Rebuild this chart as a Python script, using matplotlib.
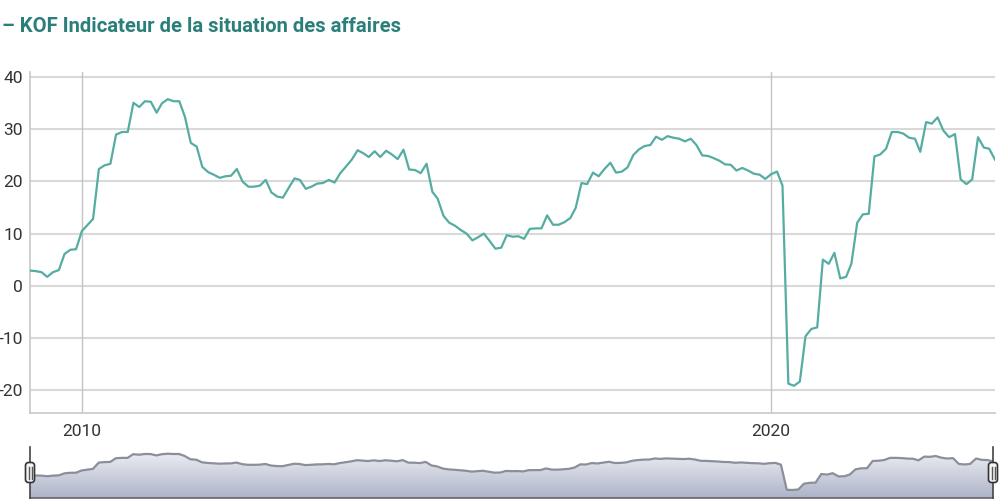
import numpy as np
import pandas as pd
import matplotlib
matplotlib.use("Agg")
import matplotlib.pyplot as plt
import matplotlib.dates as mdates
import matplotlib.transforms as mtransforms
from matplotlib.patches import FancyBboxPatch
from matplotlib.lines import Line2D

# ---------------- data ----------------
start_month = "2009-04-01"
values = [
    2.9, 2.8, 2.6, 1.7, 2.6, 3.0, 6.1, 6.9, 7.0, 10.5, 11.7, 12.8, 22.4, 23.1, 23.4,
    29.0, 29.5, 29.5, 35.1, 34.3, 35.4, 35.3, 33.2, 35.0, 35.8, 35.4, 35.4, 32.4,
    27.4, 26.7, 22.8, 21.8, 21.3, 20.7, 21.0,
    21.1, 22.4, 20.0, 19.0, 19.0, 19.2, 20.3, 17.9, 17.1, 16.9, 18.8, 20.6, 20.3,
    18.6, 19.0, 19.6, 19.7, 20.3, 19.8, 21.6, 22.9, 24.2, 26.0, 25.4, 24.7, 25.8,
    24.7, 25.9, 25.2, 24.3, 26.1, 22.3, 22.2, 21.6,
    23.4, 18.0, 16.7, 13.4, 12.1, 11.5, 10.7, 10.0, 8.7, 9.3, 10.0, 8.6, 7.1, 7.3,
    9.7, 9.4, 9.5, 9.0, 10.9, 11.0, 11.0, 13.5, 11.7, 11.7, 12.2, 13.0, 14.9, 19.7,
    19.5, 21.7, 21.0, 22.4,
    23.6, 21.7, 21.9, 22.7, 25.1, 26.2, 26.8, 27.0, 28.6, 28.0, 28.7, 28.4, 28.2,
    27.7, 28.2, 27.0, 25.0, 24.9, 24.5, 24.0, 23.3, 23.2, 22.1, 22.6, 22.1, 21.5,
    21.3, 20.5, 21.4, 21.9, 19.2,
    -18.8, -19.2, -18.4, -9.7, -8.3, -8.0, 5.0, 4.2, 6.3, 1.4, 1.7, 4.2, 12.1, 13.7,
    13.8, 24.8, 25.2, 26.3, 29.5, 29.5, 29.2, 28.4, 28.2, 25.7, 31.4, 31.1, 32.3,
    29.8, 28.5, 29.1, 20.4, 19.5, 20.4, 28.5, 26.5, 26.3, 24.2,
]
dates = pd.date_range(start_month, periods=len(values), freq="MS")
y_ticks = [-20, -10, 0, 10, 20, 30, 40]
x_tick_years = ["2010", "2020"]
title = "– KOF Indicateur de la situation des affaires"

# ---------------- style ----------------
plt.rcParams["font.family"] = ["Roboto", "DejaVu Sans"]
line_color = "#55ada2"
title_color = "#2b7f7b"
grid_color = "#d9d9d9"
vline_color = "#c4c4c4"
text_color = "#333333"

fig = plt.figure(figsize=(10, 5), dpi=100)
W, H = 1000, 500

def frac(x0, y0, x1, y1):
    return [x0 / W, 1 - y1 / H, (x1 - x0) / W, (y1 - y0) / H]

# ---------------- main chart ----------------
ax = fig.add_axes(frac(30, 71.7, 995, 413))
ax.plot(dates, values, color=line_color, lw=1.6, solid_joinstyle="round", zorder=3)
ax.set_xlim(dates[0], dates[-1])
ax.set_ylim(-24.43, 41.07)
ax.set_yticks(y_ticks)
ax.set_yticklabels([str(v) for v in y_ticks])
xt = [pd.Timestamp(f"{y}-01-01") for y in x_tick_years]
ax.set_xticks(xt)
ax.set_xticklabels(x_tick_years)
ax.tick_params(axis="both", length=0, labelsize=12.5, colors=text_color)
ax.tick_params(axis="y", pad=5)
ax.tick_params(axis="x", pad=8)
for y in y_ticks:
    ax.axhline(y, color=grid_color, lw=1.5, zorder=1)
for x in xt:
    ax.axvline(x, color=vline_color, lw=1.0, zorder=1)
for s in ["top", "right"]:
    ax.spines[s].set_visible(False)
for s in ["left", "bottom"]:
    ax.spines[s].set_color("#c8c8c8")
    ax.spines[s].set_linewidth(1.2)

fig.text(2 / W, 1 - 27 / H, title, color=title_color, fontsize=14.6,
         fontweight="bold", ha="left", va="center")

# ---------------- navigator ----------------
nav = fig.add_axes(frac(30, 447, 993, 498))
nav.set_xlim(dates[0], dates[-1])
nav.set_ylim(-31.3, 46.0)
nav.axis("off")
xnum = mdates.date2num(dates)
poly = nav.fill_between(dates, values, -31.3, color="none", lw=0)
grad = np.linspace(0, 1, 256).reshape(-1, 1)
cmap = matplotlib.colors.LinearSegmentedColormap.from_list(
    "nav", ["#eceef3", "#adb3c8"])
img = nav.imshow(grad, aspect="auto", cmap=cmap, origin="upper",
                 extent=[xnum[0], xnum[-1], -31.3, 37.0], zorder=1)
img.set_clip_path(poly.get_paths()[0], nav.transData)
nav.plot(dates, values, color="#8a8f99", lw=1.6, zorder=2)
nav.set_xlim(dates[0], dates[-1])
nav.set_ylim(-31.3, 46.0)
nav.add_line(Line2D([0, 1], [0, 0], transform=nav.transAxes, color="#666666",
                    lw=1.2, clip_on=False))

blend = mtransforms.blended_transform_factory(nav.transData, nav.transAxes)
for xv in [xnum[0], xnum[-1]]:
    nav.add_line(Line2D([xv, xv], [0, 1], transform=blend, color="#444444",
                        lw=1.2, clip_on=False, zorder=4))
    tr = mtransforms.Affine2D() + mtransforms.ScaledTranslation(xv, 0.5, blend)
    p = FancyBboxPatch((-4.5, -10), 9, 20, boxstyle="round,pad=0,rounding_size=3",
                       transform=tr, facecolor="#f4f4f4", edgecolor="#333333",
                       lw=1.2, clip_on=False, zorder=5)
    nav.add_patch(p)
    for dx in (-1.5, 1.5):
        nav.add_line(Line2D([dx, dx], [-6, 6], transform=tr, color="#555555",
                            lw=1.0, clip_on=False, zorder=6))

fig.savefig("out.png", dpi=100)
